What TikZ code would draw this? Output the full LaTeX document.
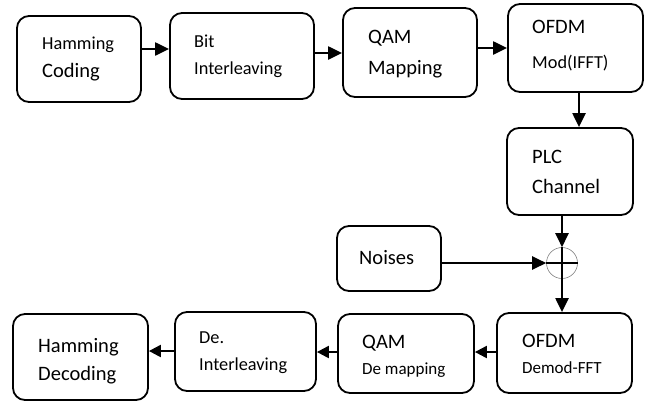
\documentclass[tikz,border=0pt]{standalone}
\usepackage{fontspec}
\setmainfont{Carlito}
\usetikzlibrary{arrows.meta,calc}
\tikzset{
  blk/.style={draw, rounded corners=12pt, line width=1.8pt, rectangle, inner sep=0pt},
  arr/.style={line width=2.2pt, -{Triangle[length=14pt,width=13pt]}},
  sarr/.style={line width=2.2pt, -{Triangle[length=12pt,width=12pt]}},
  tB/.style={anchor=base west, inner sep=0pt, font=\fontsize{20.5}{24}\selectfont},
  tS/.style={anchor=base west, inner sep=0pt, font=\fontsize{18.3}{22}\selectfont},
  tX/.style={anchor=base west, inner sep=0pt, font=\fontsize{17}{20}\selectfont},
}
\begin{document}
\begin{tikzpicture}[x=1pt,y=-1pt]
\useasboundingbox (0,0) rectangle (652,405);
% boxes
\node[blk, minimum width=124pt, minimum height=86pt] (b1) at (79,59) {};
\node[blk, minimum width=144pt, minimum height=86pt] (b2) at (242,56) {};
\node[blk, minimum width=134pt, minimum height=89pt] (b3) at (410,52.5) {};
\node[blk, minimum width=135pt, minimum height=88pt] (b4) at (575.5,48) {};
\node[blk, minimum width=126pt, minimum height=87pt] (plc) at (570,171.5) {};
\node[blk, minimum width=104pt, minimum height=65pt] (noise) at (389,258.5) {};
\node[blk, minimum width=135pt, minimum height=80pt] (demod) at (564.5,353) {};
\node[blk, minimum width=136pt, minimum height=79pt] (qamd) at (406,353.5) {};
\node[blk, minimum width=141pt, minimum height=79pt] (deint) at (245.5,351.5) {};
\node[blk, minimum width=135pt, minimum height=86pt] (hdec) at (80.5,357) {};
% summing junction
\node[draw=gray, line width=0.6pt, circle, minimum size=31pt, inner sep=0pt] (sum) at (562,263) {};
\draw[line width=2.4pt] (sum.west) -- (sum.east) (sum.north) -- (sum.south);
% texts
\node[tS] (t1a) at (42,49) {Hamming};
\node[tB] (t1b) at (42,77) {Coding};
\node[tS] (t2a) at (194,47) {Bit};
\node[tS] (t2b) at (194,74) {Interleaving};
\node[tB] (t3a) at (368,43) {QAM};
\node[tB] (t3b) at (368,74) {Mapping};
\node[tB] (t4a) at (532,33) {OFDM};
\node[tS] (t4b) at (532,68) {Mod(IFFT)};
\node[tB] (t5a) at (532,163) {PLC};
\node[tB] (t5b) at (532,193) {Channel};
\node[tB] (t6) at (359,264) {Noises};
\node[tB] (t7a) at (362,348) {QAM};
\node[tX] (t7b) at (362,374) {De mapping};
\node[tB] (t8a) at (522,347) {OFDM};
\node[tX] (t8b) at (522,373) {Demod-FFT};
\node[tS] (t9a) at (199,343) {De.};
\node[tS] (t9b) at (199,370) {Interleaving};
\node[tB] (t10a) at (38,352) {Hamming};
\node[tB] (t10b) at (38,380) {Decoding};
% helper coordinates for connector levels
\coordinate (yA) at (0,49);
\coordinate (yB) at (0,53);
\coordinate (yC) at (0,48);
\coordinate (xD) at (579,0);
\coordinate (yE) at (0,352);
\coordinate (yF) at (0,351);
% connectors
\draw[arr] (b1.east |- yA) -- (b2.west |- yA);
\draw[arr] (b2.east |- yB) -- (b3.west |- yB);
\draw[arr] (b3.east |- yC) -- (b4.west |- yC);
\draw[arr] (b4.south -| xD) -- (plc.north -| xD);
\draw[arr] (plc.south -| sum) -- (sum.north);
\draw[arr] (noise.east |- sum) -- (sum.west);
\draw[arr] (sum.south) -- (demod.north -| sum);
\draw[sarr] (demod.west |- yE) -- (qamd.east |- yE);
\draw[sarr] (qamd.west |- yE) -- (deint.east |- yE);
\draw[sarr] (deint.west |- yF) -- (hdec.east |- yF);
\end{tikzpicture}
\end{document}
